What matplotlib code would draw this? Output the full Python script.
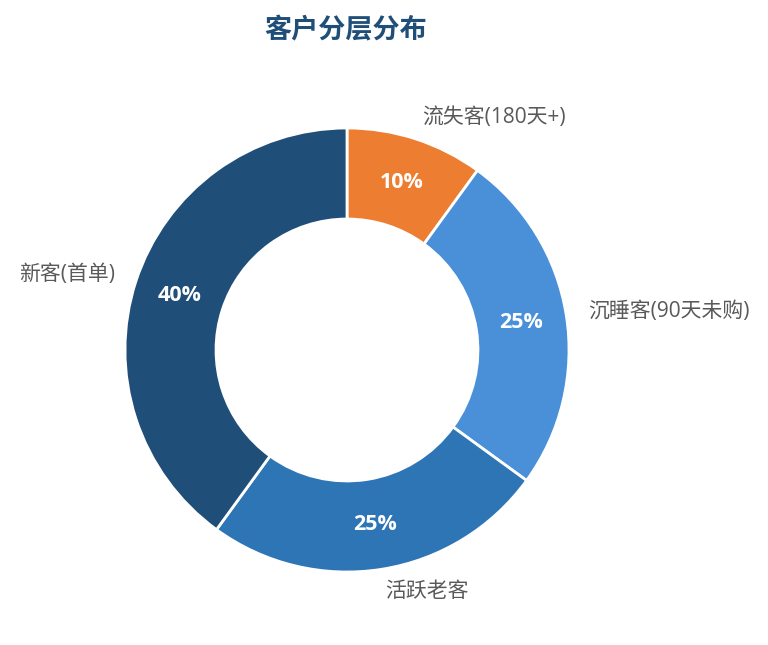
import matplotlib.pyplot as plt

plt.rcParams['font.family'] = ['Open Sans', 'Noto Sans CJK SC', 'DejaVu Sans']

# data
labels = ['流失客(180天+)', '沉睡客(90天未购)', '活跃老客', '新客(首单)']
values = [10, 25, 25, 40]
colors = ['#ed7d31', '#4a90d9', '#2e75b6', '#1f4e79']

fig = plt.figure(figsize=(7.68, 6.45), dpi=100)

# place the donut: centre ~ (347, 350) px, radius ~ 222 px
cx, cy, r = 347, 350, 222
ax = fig.add_axes([(cx - r) / 768, (645 - cy - r) / 645, 2 * r / 768, 2 * r / 645])

wedges, texts, autotexts = ax.pie(
    values, labels=labels, colors=colors, startangle=90, counterclock=False,
    autopct='%d%%', pctdistance=0.795, labeldistance=1.1,
    wedgeprops=dict(width=0.41, edgecolor='white', linewidth=2),
    textprops=dict(fontsize=15, color='#595959'))

for t in autotexts:
    t.set_color('white')
    t.set_fontsize(15.5)
    t.set_fontweight('bold')

ax.set_xlim(-1, 1)
ax.set_ylim(-1, 1)
ax.set_aspect('equal')
ax.axis('off')

fig.text(346 / 768, 1 - 30 / 645, '客户分层分布', ha='center', va='center',
         fontsize=19.5, fontweight='bold', color='#1f4e79',
         family=['Noto Sans CJK SC', 'DejaVu Sans'])

plt.savefig('out.png', dpi=100)
